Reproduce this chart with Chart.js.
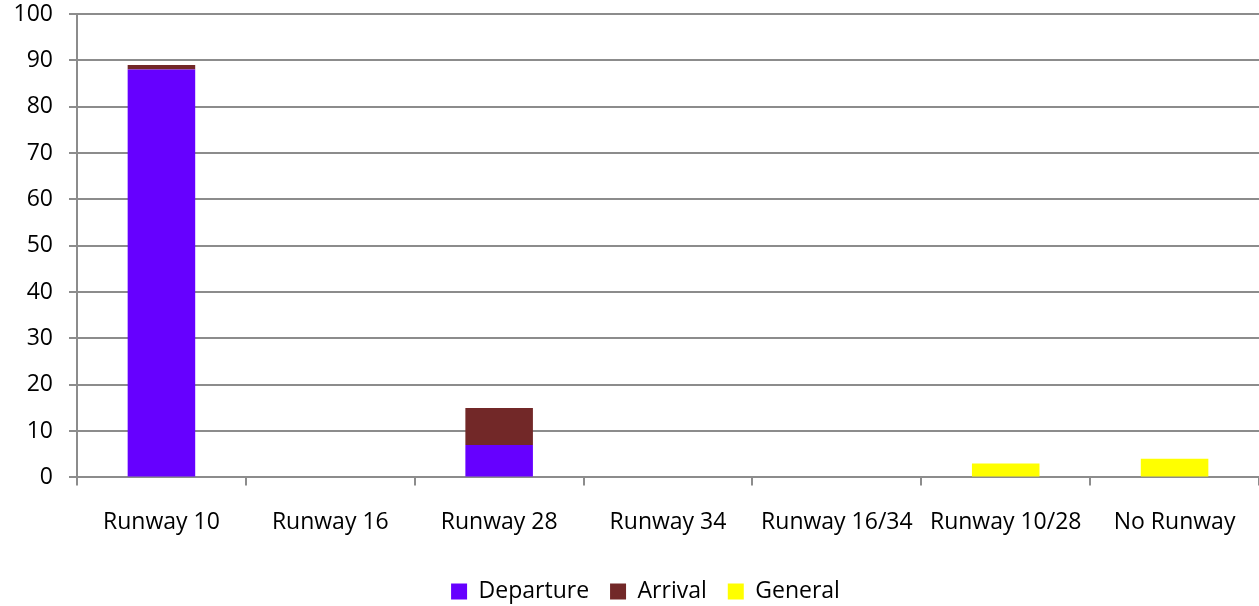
<!DOCTYPE html>
<html>
<head>
<meta charset="utf-8">
<script src="https://cdn.jsdelivr.net/npm/chart.js@4"></script>
<style>
  html, body { margin: 0; padding: 0; background: #fff; }
  #wrap { width: 1259px; height: 606px; position: relative; }
</style>
</head>
<body>
<div id="wrap"><canvas id="chartCanvas"></canvas></div>
<script>
const categories = ["Runway 10", "Runway 16", "Runway 28", "Runway 34", "Runway 16/34", "Runway 10/28", "No Runway"];
const departure = [88, 0, 7, 0, 0, 0, 0];
const arrival = [1, 0, 8, 0, 0, 0, 0];
const general = [0, 0, 0, 0, 0, 3, 4];

const axisColor = "#8c8c8c";
const font = { family: "'Open Sans', Lato, sans-serif", size: 23 };

// nudge the legend a little right, like the original
const legendShift = {
  id: "legendShift",
  afterLayout(chart) {
    const lg = chart.legend;
    if (lg) { lg.left += 16; lg.right += 16; }
  },
};

new Chart(document.getElementById("chartCanvas"), {
  type: "bar",
  data: {
    labels: categories,
    datasets: [
      { label: "Departure", data: departure, backgroundColor: "#6600ff" },
      { label: "Arrival", data: arrival, backgroundColor: "#722828" },
      { label: "General", data: general, backgroundColor: "#ffff00" },
    ],
  },
  options: {
    responsive: true,
    maintainAspectRatio: false,
    animation: false,
    layout: { padding: { top: 0, left: 0, right: 0, bottom: -7 } },
    datasets: { bar: { categoryPercentage: 0.4, barPercentage: 1 } },
    scales: {
      x: {
        stacked: true,
        offset: true,
        grid: { offset: true, drawOnChartArea: false, drawTicks: true, tickLength: 8, color: axisColor, lineWidth: 2 },
        border: { color: axisColor, width: 2 },
        ticks: { color: "#000", font: font, padding: 23, maxRotation: 0 },
      },
      y: {
        stacked: true,
        min: 0,
        max: 100,
        ticks: { stepSize: 10, color: "#000", font: font, padding: 16 },
        grid: { color: axisColor, lineWidth: 2, tickLength: 8 },
        border: { color: axisColor, width: 2 },
        afterFit: (scale) => {
          scale.width = 77;
          scale.paddingTop = 14;
          scale.paddingBottom = 0;
        },
      },
    },
    plugins: {
      legend: {
        position: "bottom",
        labels: { boxWidth: 16, boxHeight: 16, color: "#000", font: font, padding: 21 },
      },
      tooltip: { enabled: false },
    },
  },
  plugins: [legendShift],
});
</script>
</body>
</html>
